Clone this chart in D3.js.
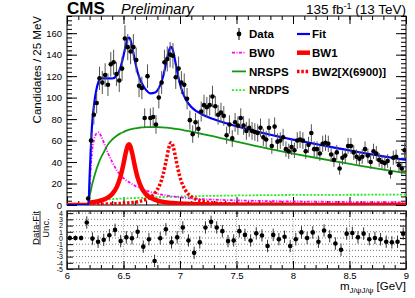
<!DOCTYPE html>
<html lang="en">
<head>
<meta charset="UTF-8">
<title>X(6900) fit</title>
<style>
  body { margin: 0; background: #fff; }
  svg { display: block; font-family: "Liberation Sans", Arial, Helvetica, sans-serif; }
  .tlab { font-size: 9.5px; }
  .plab { font-size: 7px; }
  .leg { font-size: 11.5px; font-weight: bold; }
</style>
<script src="https://d3js.org/d3.v7.min.js"></script>
</head>
<body>
<svg id="fig" width="415" height="298" viewBox="0 0 415 298"></svg>
<script>
// ---- data ----
// 25 MeV bins, first filled bin centred at 6.1875 GeV
const firstBin = 6.1875
const binWidth = 0.025
const counts = [6, 60, 84, 95, 118, 114, 121, 112, 131, 133, 122, 116, 127, 155, 147, 143, 147, 135, 111, 109,
    81, 120, 81, 82, 75, 100, 114, 133, 136, 140, 139, 119, 127,
    114, 112, 99, 79, 66, 77, 71, 87, 93, 91, 93, 101, 92, 84, 86, 83, 65, 75, 62, 77, 74, 81, 74, 69, 72,
    69, 68, 67, 72, 63, 61, 72, 55,
    73, 59, 60, 63, 52, 50, 54, 51, 60, 61, 60, 50, 56, 67, 52, 52, 48, 57, 58, 57, 47, 42, 49, 34, 44, 46,
    55, 55, 49, 45, 43, 45, 52, 46, 40, 50, 48, 42, 40, 39, 41, 30, 44, 45, 37, 34, 51]

// fit curves sampled along the mass axis
const curveMass = [6.0, 6.19, 6.2, 6.21, 6.22, 6.24, 6.26, 6.28, 6.30, 6.33, 6.36, 6.40, 6.44, 6.47, 6.50, 6.52,
    6.54, 6.55, 6.56, 6.58, 6.60, 6.63, 6.66, 6.70, 6.74, 6.78, 6.82, 6.85, 6.88, 6.90, 6.92, 6.93, 6.94, 6.96,
    6.98, 7.01, 7.05, 7.10, 7.15, 7.20, 7.30, 7.40, 7.50, 7.60, 7.70, 7.80, 7.90, 8.00, 8.20, 8.40, 8.60, 8.80, 9.00]
const fitVals = [0, 0, 26.2, 51.1, 72, 94, 107.3, 115, 118.1, 117.9, 118, 117.8, 120.6, 127, 139, 148.8, 155.5, 156,
    154.2, 145.6, 134.9, 121.8, 113.8, 107, 104, 104.8, 110.5, 119.5, 133.3, 142.9, 147.2, 146.2, 143, 132.7,
    121.6, 108.9, 98.5, 91.3, 87.1, 84.1, 79.8, 76.3, 73.3, 70.5, 67.9, 65.4, 63.1, 60.9, 56.8, 52.8, 48.9, 45.3, 41.9]
const bw0Vals = [0, 0, 14, 33, 48, 61, 66.5, 67.5, 64.5, 57, 49, 40, 32.5, 28, 25, 23.3, 21.8, 21.1, 20.4, 19.2,
    18, 16.5, 15.1, 13.5, 12.1, 11, 10, 9.4, 8.8, 8.5, 8.2, 8.0, 7.9, 7.6, 7.3, 7.0, 6.6, 6.1, 5.8, 5.5,
    5.0, 4.6, 4.3, 4.0, 3.8, 3.6, 3.4, 3.3, 3.1, 2.9, 2.7, 2.6, 2.5]
const bw1Vals = [0, 0, 2.2, 2.3, 2.5, 2.8, 3.2, 3.6, 4.2, 5.3, 6.9, 10.3, 16.7, 25.2, 38.4, 48.7, 55.8, 56.5, 54.9,
    46.7, 36.4, 23.8, 15.9, 9.9, 6.6, 4.7, 3.5, 2.9, 2.4, 2.2, 1.9, 1.85, 1.8, 1.65, 1.5, 1.35, 1.15, 0.95, 0.8,
    0.65, 0.5, 0.37, 0.3, 0.24, 0.2, 0.17, 0.15, 0.13, 0.1, 0.08, 0.06, 0.05, 0.05]
const bw2Vals = [0, 0, 0.5, 0.5, 0.55, 0.6, 0.6, 0.65, 0.7, 0.75, 0.85, 1.0, 1.2, 1.35, 1.55, 1.7, 1.9, 2.0, 2.1,
    2.3, 2.6, 3.1, 3.9, 5.2, 7.5, 11.3, 18.6, 28.2, 42.6, 52.8, 58, 57.3, 54.4, 44.8, 34.4, 22.5, 13.4, 7.8, 5.0,
    3.5, 1.9, 1.25, 0.84, 0.65, 0.5, 0.4, 0.33, 0.24, 0.17, 0.12, 0.1, 0.07, 0.06]
const nrspsVals = [0, 0, 8, 13, 18, 26, 33, 39, 44, 50, 56, 61, 64.5, 66.5, 68, 69, 69.8, 70.2, 70.5, 71, 71.4,
    71.8, 72.2, 72.5, 72.6, 72.6, 72.4, 72.2, 72, 71.8, 71.5, 71.4, 71.2, 70.9, 70.6, 70.1, 69.3, 68.3, 67.2,
    66.1, 63.8, 61.4, 59, 56.6, 54.3, 52, 49.9, 47.9, 44, 40.2, 36.5, 33, 29.7]
const nrdpsVals = [0, 0, 1.5, 2.3, 2.9, 3.6, 4.1, 4.4, 4.7, 5.0, 5.2, 5.5, 5.7, 5.9, 6.0, 6.1, 6.2, 6.25, 6.3, 6.4,
    6.5, 6.6, 6.7, 6.9, 7.0, 7.2, 7.3, 7.4, 7.5, 7.55, 7.6, 7.65, 7.7, 7.75, 7.8, 7.9, 8.0, 8.1, 8.25, 8.35,
    8.55, 8.7, 8.85, 9.0, 9.1, 9.2, 9.3, 9.35, 9.45, 9.5, 9.55, 9.6, 9.6]

// pull panel, 50 MeV bins
const pullFirst = 6.025
const pullStep = 0.05
const pulls = [0, 0, 0, 2.5, -0.1, -0.6, -0.3, 0.45, 1.3, -0.5, 0.1, -0.05, 1.0,
    -1.4, -0.2, -3.7, -0.05, 1.4, -0.7, 0.1, 1.7, -0.4, -2.4, -0.7, 1.7, 2.6, 1.7, 1.1, -0.5, -0.4, 1.1, 0.5,
    -0.4, 0.75, 0.4, -1.3,
    0.5, -0.2, 0.2, -1.3, -0.2, 0.9, 0, 0.9, -0.6, 1.2, 0.3, -0.9, -1.9, 0.7, 0.8, 0.1, 0.7, -0.2, 0, -0.2,
    -0.6, -0.7, -0.6, 0.7]
const pullErr = [0.4, 0.4, 0.4].concat(d3.range(57).map(() => 1))

const yTicks = [0, 20, 40, 60, 80, 100, 120, 140, 160]
const xTicks = [6, 6.5, 7, 7.5, 8, 8.5, 9]
const pullTicks = [4, 3, 2, 1, 0, -1, -2, -3, -4, -5]

const legendLeft = [
    {name: 'Data', kind: 'data'},
    {name: 'BW0', kind: 'bw0'},
    {name: 'NRSPS', kind: 'nrsps'},
    {name: 'NRDPS', kind: 'nrdps'}
]
const legendRight = [
    {name: 'Fit', kind: 'fit'},
    {name: 'BW1', kind: 'bw1'},
    {name: 'BW2[X(6900)]', kind: 'bw2'}
]

// ---- styles ----
const styles = {
    fit:   {color: '#0000ff', width: 2.2, dash: null},
    bw0:   {color: '#ff00ff', width: 1.8, dash: '3,1.5,1,1.5'},
    bw1:   {color: '#ff0000', width: 4.5, dash: null},
    bw2:   {color: '#ff0000', width: 3.5, dash: '2.5,1.8'},
    nrsps: {color: '#119a11', width: 1.8, dash: null},
    nrdps: {color: '#22ee22', width: 1.8, dash: '2,1.6'}
}

const svg = d3.select('#fig')
const L = 67, R = 406, T = 16, B = 205, PT = 211, PB = 269

let x = d3.scaleLinear().domain([6, 9]).range([L, R])
let y = d3.scaleLinear().domain([0, 176]).range([B, T])
let yp = d3.scaleLinear().domain([-5, 4.35]).range([PB, PT])

svg.append('defs').append('clipPath').attr('id', 'clipTop')
    .append('rect').attr('x', L).attr('y', T).attr('width', R - L).attr('height', B - T)

// ---- axes (ticks inside, ROOT style) ----
function tickAxis(axisFn, scale, values, size, pos, labels, cls, pad) {
    let a = axisFn(scale).tickValues(values).tickSizeInner(-size).tickSizeOuter(0).tickPadding(pad || 5)
    a.tickFormat(labels ? (d => String(d)) : '')
    let g = svg.append('g').attr('transform', pos).call(a)
    g.select('.domain').remove()
    g.selectAll('line').attr('stroke', '#000').attr('stroke-width', 1)
    g.selectAll('text').attr('class', cls || 'tlab').attr('fill', '#000').style('font-family', null)
    return g
}
const minorX = d3.range(60, 91).map(d => d / 10)
const minorY = d3.range(0, 177, 4)

tickAxis(d3.axisLeft, y, yTicks, 10, `translate(${L},0)`, true)
tickAxis(d3.axisLeft, y, minorY, 5, `translate(${L},0)`, false)
tickAxis(d3.axisRight, y, yTicks, 10, `translate(${R},0)`, false)
tickAxis(d3.axisRight, y, minorY, 5, `translate(${R},0)`, false)
tickAxis(d3.axisTop, x, xTicks, 8, `translate(0,${T})`, false)
tickAxis(d3.axisTop, x, minorX, 4, `translate(0,${T})`, false)
tickAxis(d3.axisBottom, x, xTicks, 8, `translate(0,${B})`, false)
tickAxis(d3.axisBottom, x, minorX, 4, `translate(0,${B})`, false)

svg.append('rect').attr('x', L).attr('y', T).attr('width', R - L).attr('height', B - T)
    .attr('fill', 'none').attr('stroke', '#000').attr('stroke-width', 1)

// ---- curves ----
const plot = svg.append('g').attr('clip-path', 'url(#clipTop)')
const line = d3.line().x(d => x(d[0])).y(d => y(d[1])).curve(d3.curveMonotoneX)

function drawCurve(vals, kind) {
    let s = styles[kind]
    plot.append('path')
        .datum(d3.zip(curveMass, vals))
        .attr('d', line)
        .attr('fill', 'none')
        .attr('stroke', s.color)
        .attr('stroke-width', s.width)
        .attr('stroke-dasharray', s.dash)
}
drawCurve(nrdpsVals, 'nrdps')
drawCurve(bw0Vals, 'bw0')
drawCurve(nrspsVals, 'nrsps')
drawCurve(bw2Vals, 'bw2')
drawCurve(bw1Vals, 'bw1')
drawCurve(fitVals, 'fit')

// ---- data points ----
const points = counts.map((c, i) => ({m: firstBin + i * binWidth, v: c}))
const pts = plot.selectAll('.pt').data(points).enter().append('g').attr('class', 'pt')
pts.append('line')
    .attr('x1', d => x(d.m)).attr('x2', d => x(d.m))
    .attr('y1', d => y(d.v - Math.sqrt(d.v))).attr('y2', d => y(d.v + Math.sqrt(d.v)))
    .attr('stroke', '#555').attr('stroke-width', 1)
pts.append('circle')
    .attr('cx', d => x(d.m)).attr('cy', d => y(d.v)).attr('r', 2.3).attr('fill', '#000')

// ---- pull panel ----
svg.append('g').selectAll('line').data(pullTicks.filter(d => d > -5 && d < 4.35)).enter().append('line')
    .attr('x1', L).attr('x2', R).attr('y1', d => yp(d)).attr('y2', d => yp(d))
    .attr('stroke', '#555').attr('stroke-width', 0.8).attr('stroke-dasharray', '1,2')
svg.append('g').selectAll('line').data(xTicks.slice(1, -1)).enter().append('line')
    .attr('x1', d => x(d)).attr('x2', d => x(d)).attr('y1', PT).attr('y2', PB)
    .attr('stroke', '#888').attr('stroke-width', 0.8).attr('stroke-dasharray', '1,1.5')

tickAxis(d3.axisLeft, yp, pullTicks, 6, `translate(${L},0)`, true, 'plab', 4)
tickAxis(d3.axisRight, yp, pullTicks, 6, `translate(${R},0)`, false)
tickAxis(d3.axisBottom, x, xTicks, 8, `translate(0,${PB})`, true, 'tlab', 3)
tickAxis(d3.axisBottom, x, minorX, 4, `translate(0,${PB})`, false)
tickAxis(d3.axisTop, x, xTicks, 6, `translate(0,${PT})`, false)
tickAxis(d3.axisTop, x, minorX, 3, `translate(0,${PT})`, false)

svg.append('rect').attr('x', L).attr('y', PT).attr('width', R - L).attr('height', PB - PT)
    .attr('fill', 'none').attr('stroke', '#222').attr('stroke-width', 1.5)

const pullPts = pulls.map((p, i) => ({m: pullFirst + i * pullStep, v: p, e: pullErr[i]}))
const pp = svg.append('g').selectAll('g').data(pullPts).enter().append('g')
pp.append('line')
    .attr('x1', d => x(d.m)).attr('x2', d => x(d.m))
    .attr('y1', d => yp(d.v - d.e)).attr('y2', d => yp(d.v + d.e))
    .attr('stroke', '#333').attr('stroke-width', 1)
pp.append('circle')
    .attr('cx', d => x(d.m)).attr('cy', d => yp(d.v)).attr('r', 2.3).attr('fill', '#000')

// ---- titles ----
svg.append('text').attr('x', L).attr('y', 14)
    .style('font-size', '17px').style('font-weight', 'bold').text('CMS')
svg.append('text').attr('x', 121).attr('y', 14)
    .style('font-size', '14.5px').style('font-style', 'italic').text('Preliminary')
let lumi = svg.append('text').attr('x', R).attr('y', 13.5).attr('text-anchor', 'end').style('font-size', '13.5px')
lumi.append('tspan').text('135 fb')
lumi.append('tspan').attr('dy', -5).style('font-size', '9px').text('-1')
lumi.append('tspan').attr('dy', 5).text(' (13 TeV)')

svg.append('text').attr('transform', `translate(41,${T}) rotate(-90)`)
    .attr('text-anchor', 'end').style('font-size', '11.5px').text('Candidates / 25 MeV')

let xt = svg.append('text').attr('x', R).attr('y', 290).attr('text-anchor', 'end').style('font-size', '11.5px')
xt.append('tspan').text('m')
xt.append('tspan').attr('dy', 3).style('font-size', '8px').text('J/\u03c8J/\u03c8')
xt.append('tspan').attr('dy', -3).text(' [GeV]')

let pt = svg.append('g').attr('transform', 'translate(40,228) rotate(-90)')
pt.append('text').attr('y', -1.5).attr('text-anchor', 'middle').style('font-size', '9.5px').text('Data-Fit')
pt.append('line').attr('x1', -17).attr('x2', 17).attr('stroke', '#000').attr('stroke-width', 0.8)
pt.append('text').attr('y', 8.5).attr('text-anchor', 'middle').style('font-size', '9.5px').text('Unc.')

// ---- legend ----
function legendCol(items, x0, x1, tx) {
    items.forEach(function (d, i) {
        let yy = 34 + i * 18.7
        let g = svg.append('g')
        if (d.kind === 'data') {
            g.append('line').attr('x1', (x0 + x1) / 2).attr('x2', (x0 + x1) / 2)
                .attr('y1', yy - 6).attr('y2', yy + 6).attr('stroke', '#000').attr('stroke-width', 1)
            g.append('circle').attr('cx', (x0 + x1) / 2).attr('cy', yy).attr('r', 2.4)
        } else {
            let s = styles[d.kind]
            g.append('line').attr('x1', x0).attr('x2', x1).attr('y1', yy).attr('y2', yy)
                .attr('stroke', s.color).attr('stroke-width', s.width).attr('stroke-dasharray', s.dash)
        }
        g.append('text').attr('class', 'leg').attr('x', tx).attr('y', yy + 4.2).text(d.name)
    })
}
legendCol(legendLeft, 232, 246, 249)
legendCol(legendRight, 297, 310, 312)
</script>
</body>
</html>
